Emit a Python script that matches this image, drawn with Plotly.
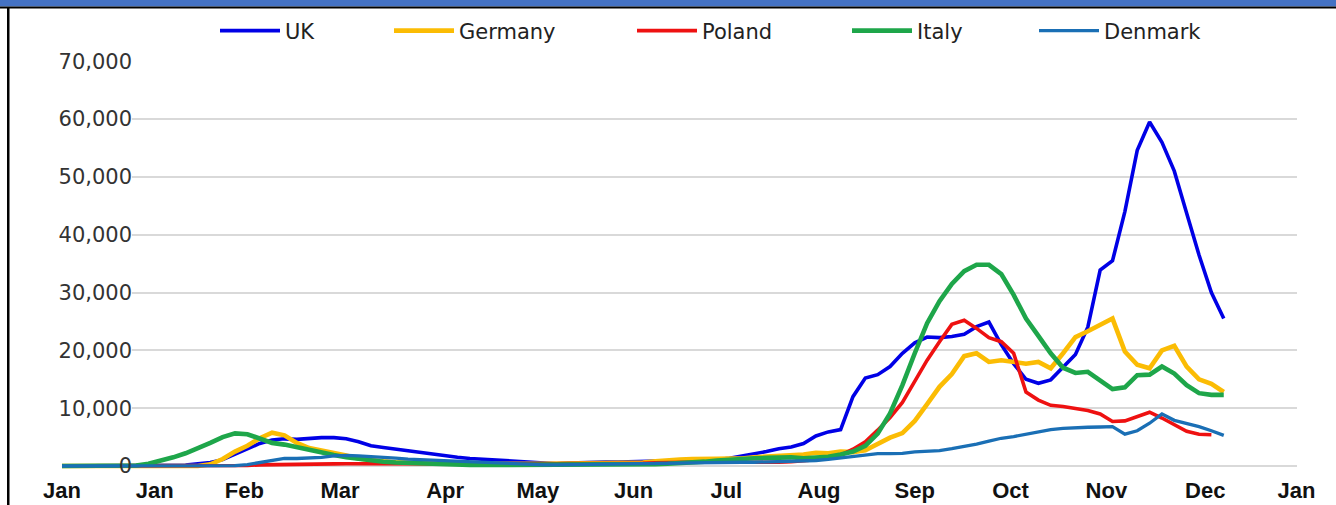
import pandas as pd
import plotly.graph_objects as go

# ---------------- data ----------------
start_date = "2020-01-22"
n_points = 95
dates = pd.date_range(start_date, periods=n_points, freq="4D")

uk = [0, 0, 0, 0, 0, 0, 0, 0,
      20, 60, 150, 400, 600, 1100, 2000,
      3000, 3900, 4500, 4700, 4600, 4800, 4900,
      4900, 4700, 4200, 3500, 3200, 2900, 2700,
      2400, 2000, 1700, 1500, 1300, 1150, 1000,
      900, 800, 650, 500, 400, 500, 600,
      700, 700, 700, 750, 750, 750, 800,
      850, 900, 950, 1100, 1350, 1700, 2000,
      2500, 3000, 3300, 3900, 5200, 5900, 6300,
      12000, 15200, 15800, 17200, 19500, 21300, 22300,
      22200, 22400, 22800, 24100, 24900, 21000, 17700,
      15000, 14300, 14900, 17000, 19300, 24000, 33900,
      35500, 44000, 54600, 59500, 56000, 51000, 43700,
      36500, 30000, 25500]

germany = [0] * 12 + [
      300, 1200, 2500, 3500, 4800, 5750, 5300,
      4000, 3100, 2700, 2400, 1800, 1300, 1000,
      800, 650, 550, 500, 450, 400, 380,
      350, 330, 350, 400, 420, 400, 380,
      400, 420, 450, 450, 400, 450, 500,
      600, 800, 1000, 1100, 1200, 1300, 1250,
      1300, 1300, 1500, 1600, 1800, 1900, 2000,
      2300, 2200, 2500, 2400, 2700, 3800, 4900,
      5700, 7800, 10700, 13700, 15900, 19000, 19500,
      18000, 18300, 18100, 17700, 18000, 16900, 19500,
      22300, 23300, 24400, 25500, 19800, 17500, 16900,
      20000, 20800, 17200, 15000, 14200, 12800]

poland = [0] * 15 + [
      100, 200, 250, 300, 330, 350, 350,
      370, 380, 370, 350, 350, 330, 320,
      300, 300, 320, 320, 330, 350, 350,
      360, 370, 380, 390, 370, 350, 330,
      300, 320, 350, 400, 480, 550, 600,
      650, 700, 750, 800, 750, 650, 600,
      600, 650, 750, 900, 1100, 1400, 1900,
      2900, 4200, 6200, 8400, 11000, 14800, 18300,
      21500, 24500, 25200, 23800, 22200, 21500, 19500,
      12800, 11400, 10500, 10300, 10000, 9600, 9000,
      7700, 7800, 8600, 9300, 8300, 7100, 6000,
      5500, 5400, None]

italy = [0] * 6 + [
      100, 400, 900, 1500, 2200, 3000, 4000,
      5000, 5650, 5500, 4700, 4000, 3700, 3200,
      2800, 2400, 1900, 1500, 1200, 950, 750,
      600, 500, 400, 300, 250, 230, 200,
      180, 180, 170, 160, 160, 170, 180,
      190, 200, 210, 220, 240, 260, 280,
      320, 380, 450, 600, 750, 950, 1150,
      1300, 1350, 1400, 1450, 1500, 1350, 1450,
      1600, 2000, 2500, 3500, 5600, 9100, 14000,
      19500, 24700, 28500, 31500, 33700, 34800, 34800,
      33200, 29600, 25500, 22500, 19500, 17000, 16100,
      16300, 14800, 13300, 13600, 15700, 15800, 17200,
      16000, 14000, 12600, 12300, 12300]

denmark = [0] * 14 + [
      50, 250, 600, 1000, 1300, 1300, 1400,
      1500, 1750, 1850, 1750, 1650, 1500, 1350,
      1200, 1100, 1050, 950, 850, 750, 650,
      550, 450, 350, 250, 200, 180, 200,
      220, 250, 280, 300, 330, 360, 400,
      450, 500, 550, 600, 650, 700, 650,
      650, 700, 750, 750, 800, 950, 1150,
      1400, 1650, 1950, 2150, 2150, 2200, 2450,
      2550, 2650, 3000, 3350, 3800, 4300, 4800,
      5100, 5500, 6000, 6300, 6500, 6650, 6700,
      6750, 6800, 5500, 6100, 7400, 9000, 7900,
      7400, 6800, 6100, 5300]

names = ["UK", "Germany", "Poland", "Italy", "Denmark"]
series = [uk, germany, poland, italy, denmark]

tick_dates = ["2020-01-22", "2020-02-21", "2020-03-21", "2020-04-21", "2020-05-25",
              "2020-06-24", "2020-07-25", "2020-08-24", "2020-09-23", "2020-10-24",
              "2020-11-24", "2020-12-25", "2021-01-26", "2021-02-24 12:00"]
tick_labels = ["Jan", "Jan", "Feb", "Mar", "Apr", "May", "Jun", "Jul", "Aug",
               "Sep", "Oct", "Nov", "Dec", "Jan"]
y_ticks = [0, 10000, 20000, 30000, 40000, 50000, 60000, 70000]

# ---------------- styling ----------------
W, H = 1336, 505
L, R, T, B = 58, 39, 61, 36
PW, PH = W - L - R, H - T - B
x_range = ["2020-01-20 17:00", "2021-02-24 17:00"]
y_range = [-518, 70050]

colors = ["#0000e6", "#fbbc04", "#ee1111", "#1ea64a", "#1a6fb5"]
widths = [3.6, 4.6, 3.6, 4.6, 3.3]
legend_keys = ["legend", "legend2", "legend3", "legend4", "legend5"]
legend_text_px = [286, 460, 703, 918, 1105]


def px_x(px):
    return (px - L) / PW


def px_y(py):
    return (H - B - py) / PH


fig = go.Figure()
for name, vals, c, w, key in zip(names, series, colors, widths, legend_keys):
    fig.add_trace(go.Scatter(x=dates, y=vals, name=name, mode="lines",
                             line=dict(color=c, width=w), legend=key,
                             connectgaps=False))

legend_font = dict(family="DejaVu Sans", size=21, color="#222222")
layout_legends = {}
for key, tx in zip(legend_keys, legend_text_px):
    layout_legends[key] = dict(
        xref="container", yref="container",
        x=(tx - 71) / W, y=1 - 31 / H,
        xanchor="left", yanchor="middle",
        orientation="h", font=legend_font, itemwidth=60,
        bgcolor="rgba(0,0,0,0)", borderwidth=0,
    )

shapes = [
    # white band behind y tick labels (hides gridlines there)
    dict(type="rect", xref="x", yref="y", x0=x_range[0], x1="2020-02-13 15:00",
         y0=y_range[0], y1=y_range[1], fillcolor="white", line=dict(width=0),
         layer="between"),
    # top blue header bar
    dict(type="rect", xref="paper", yref="paper", x0=px_x(0), x1=px_x(W),
         y0=px_y(6.5), y1=px_y(0), fillcolor="#4472c4", line=dict(width=0)),
    # black rule under the header
    dict(type="rect", xref="paper", yref="paper", x0=px_x(0), x1=px_x(W),
         y0=px_y(8.5), y1=px_y(6.5), fillcolor="#000000", line=dict(width=0)),
    # left black border
    dict(type="rect", xref="paper", yref="paper", x0=px_x(7), x1=px_x(9.5),
         y0=px_y(H), y1=px_y(7), fillcolor="#000000", line=dict(width=0)),
]

fig.update_layout(
    width=W, height=H,
    margin=dict(l=L, r=R, t=T, b=B, pad=0, autoexpand=False),
    paper_bgcolor="white", plot_bgcolor="white",
    showlegend=True,
    shapes=shapes,
    **layout_legends,
    xaxis=dict(
        type="date",
        range=x_range,
        tickmode="array", tickvals=tick_dates, ticktext=tick_labels,
        showgrid=False, zeroline=False, showline=False,
        ticks="outside", ticklen=2, tickcolor="rgba(0,0,0,0)",
        tickfont=dict(family="Liberation Sans", size=22, color="#111111",
                      weight="bold"),
    ),
    yaxis=dict(
        range=y_range,
        tickmode="array", tickvals=y_ticks, tickformat=",d",
        showgrid=True, gridcolor="#d9d9d9", gridwidth=2,
        zeroline=False, showline=False, ticks="",
        anchor="free", position=px_x(132),
        tickfont=dict(family="DejaVu Sans", size=21, color="#333333"),
    ),
)

fig.write_html("out.html", config={"displayModeBar": False},
               post_script="document.body.style.margin='0px';")
